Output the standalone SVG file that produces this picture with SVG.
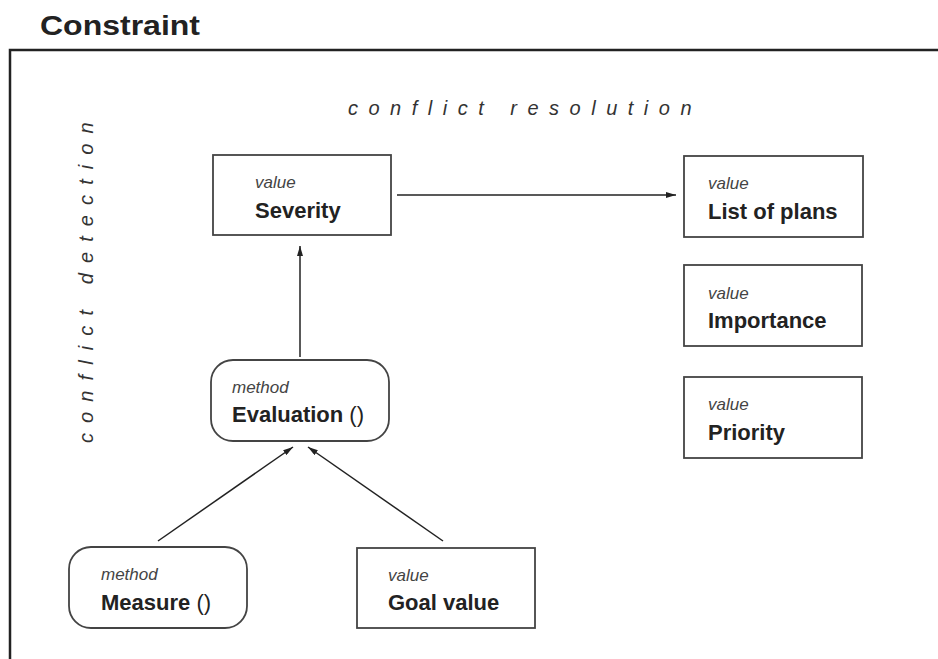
<svg xmlns="http://www.w3.org/2000/svg" width="938" height="659" viewBox="0 0 938 659">
<defs>
<style>
.box{fill:#fff;stroke:#444;stroke-width:1.8}
.kind{font-family:"Liberation Sans",Arial,sans-serif;font-style:italic;font-size:17px;fill:#444}
.name{font-family:"Liberation Sans",Arial,sans-serif;font-weight:bold;font-size:22px;fill:#222}
.paren{font-weight:normal}
.side{font-family:"Liberation Sans",Arial,sans-serif;font-style:italic;font-size:20px;fill:#333}
.conn{stroke:#222;stroke-width:1.5;fill:none;marker-end:url(#ah)}
.frame{stroke:#222;stroke-width:2.5;fill:none}
</style>
<marker id="ah" viewBox="0 0 10 6" refX="10" refY="3" markerWidth="10" markerHeight="6" markerUnits="userSpaceOnUse" orient="auto">
<path d="M0,0 L10,3 L0,6 Z" fill="#222"/>
</marker>
</defs>
<rect width="938" height="659" fill="#fff"/>
<text x="40" y="35" font-family="Liberation Sans,Arial,sans-serif" font-weight="bold" font-size="28" fill="#222" textLength="160" lengthAdjust="spacingAndGlyphs">Constraint</text>
<path class="frame" d="M10,659 L10,50 L938,50"/>
<text class="side" x="348" y="115" letter-spacing="10.5">conflict resolution</text>
<text class="side" transform="translate(93,443) rotate(-90)" x="0" y="0" font-size="21" letter-spacing="10.1">conflict detection</text>
<g id="connectors">
<line class="conn" x1="397" y1="195" x2="676" y2="195"/>
<line class="conn" x1="300" y1="357" x2="300" y2="246"/>
<line class="conn" x1="158" y1="541" x2="293" y2="447"/>
<line class="conn" x1="443" y1="541" x2="308" y2="447"/>
</g>
<g id="severity">
<rect class="box" x="213" y="155" width="178" height="80"/>
<text class="kind" x="255" y="188">value</text>
<text class="name" x="255" y="218">Severity</text>
</g>
<g id="evaluation">
<rect class="box" x="211" y="360" width="178" height="81" rx="22"/>
<text class="kind" x="232" y="393">method</text>
<text class="name" x="232" y="422">Evaluation <tspan class="paren">()</tspan></text>
</g>
<g id="measure">
<rect class="box" x="69" y="547" width="178" height="81" rx="22"/>
<text class="kind" x="101" y="580">method</text>
<text class="name" x="101" y="610">Measure <tspan class="paren">()</tspan></text>
</g>
<g id="goal-value">
<rect class="box" x="357" y="548" width="178" height="80"/>
<text class="kind" x="388" y="581">value</text>
<text class="name" x="388" y="610">Goal value</text>
</g>
<g id="list-of-plans">
<rect class="box" x="684" y="156" width="179" height="81"/>
<text class="kind" x="708" y="189">value</text>
<text class="name" x="708" y="219">List of plans</text>
</g>
<g id="importance">
<rect class="box" x="684" y="265" width="178" height="81"/>
<text class="kind" x="708" y="299">value</text>
<text class="name" x="708" y="328">Importance</text>
</g>
<g id="priority">
<rect class="box" x="684" y="377" width="178" height="81"/>
<text class="kind" x="708" y="410">value</text>
<text class="name" x="708" y="440">Priority</text>
</g>
</svg>
